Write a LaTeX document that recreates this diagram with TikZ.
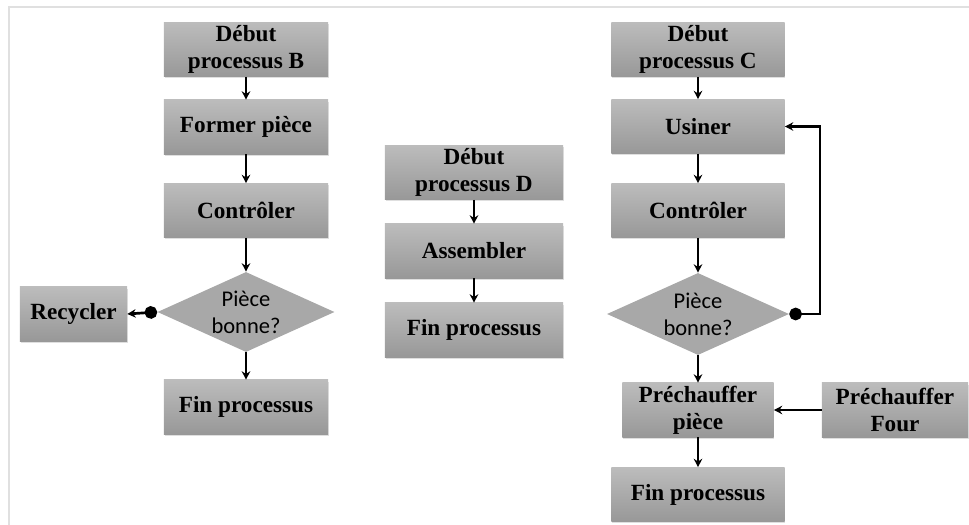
\documentclass[tikz,border=0pt]{standalone}
\usepackage{fontspec}
\setmainfont{Liberation Serif}
\newfontfamily\diafont{Carlito}
\usepackage{tikz}
\usetikzlibrary{arrows.meta,shapes.geometric,shadows}
\definecolor{grishaut}{HTML}{BCBCBC}
\definecolor{grisbas}{HTML}{989898}
\definecolor{grislos}{HTML}{A8A8A8}
\definecolor{griscadre}{HTML}{E0E0E0}

\begin{document}
\begin{tikzpicture}[x=0.025cm, y=-0.025cm, >={Stealth[length=6pt,width=6pt]},
  etape/.style={rectangle, inner sep=0pt, minimum height=1.35cm, align=center,
    top color=grishaut, bottom color=grisbas,
    drop shadow={shadow xshift=0.6pt, shadow yshift=-1.2pt, opacity=0.25},
    font=\bfseries\fontsize{16.5}{19.2}\selectfont},
  test/.style={diamond, inner sep=0pt, aspect=2.2, align=center, fill=grislos,
    font=\diafont\fontsize{16}{19.2}\selectfont},
  fleche/.style={->, line width=1.9pt},
  pointfleche/.style={{Circle[length=9pt]}->, line width=1.9pt}]
\useasboundingbox (0,0) rectangle (969,525);
\draw[griscadre, line width=1.5pt] (9,525) -- (9,7) -- (969,7);
% processus B
\node (debB) at (246,49.5) [etape, minimum width=4.1cm] {Début\\processus B};
\node (formB) at (246,127) [etape, minimum width=4.1cm] {Former pièce};
\node (ctrlB) at (246,210.5) [etape, minimum width=4.1cm] {Contrôler};
\node (pieceB) at (246,312) [test, minimum width=4.425cm, minimum height=2cm] {Pièce\\bonne?};
\node (recyc) at (73.5,314) [etape, minimum width=2.675cm] {Recycler};
\node (finB) at (246,407) [etape, minimum width=4.1cm] {Fin processus};
\draw[fleche] (debB) -- (formB);
\draw[fleche] (formB) -- (ctrlB);
\draw[fleche] (ctrlB) -- (pieceB);
\draw[fleche] (pieceB) -- (finB);
\draw[pointfleche] (pieceB.west) -- (recyc.east);
% processus D
\node (debD) at (474,172.5) [etape, minimum width=4.45cm] {Début\\processus D};
\node (assD) at (474,251) [etape, minimum width=4.45cm] {Assembler};
\node (finD) at (474,330) [etape, minimum width=4.45cm] {Fin processus};
\draw[fleche] (debD) -- (assD);
\draw[fleche] (assD) -- (finD);
% processus C
\node (debC) at (698,49.5) [etape, minimum width=4.325cm] {Début\\processus C};
\node (usiC) at (698,126.5) [etape, minimum width=4.325cm] {Usiner};
\node (ctrlC) at (698,210.5) [etape, minimum width=4.325cm] {Contrôler};
\node (pieceC) at (698,314) [test, minimum width=4.55cm, minimum height=2.05cm] {Pièce\\bonne?};
\node (prechP) at (698,410) [etape, minimum width=3.775cm] {Préchauffer\\pièce};
\node (prechF) at (895,410) [etape, minimum width=3.65cm] {Préchauffer\\Four};
\node (finC) at (698,494.5) [etape, minimum width=4.325cm] {Fin processus};
\coordinate (boucleC) at (820,126.5);
\draw[fleche] (debC) -- (usiC);
\draw[fleche] (usiC) -- (ctrlC);
\draw[fleche] (ctrlC) -- (pieceC);
\draw[fleche] (pieceC) -- (prechP);
\draw[fleche] (prechP) -- (finC);
\draw[fleche] (prechF) -- (prechP);
\draw[pointfleche] (pieceC.east) -| (boucleC) -- (usiC.east);
\end{tikzpicture}
\end{document}
